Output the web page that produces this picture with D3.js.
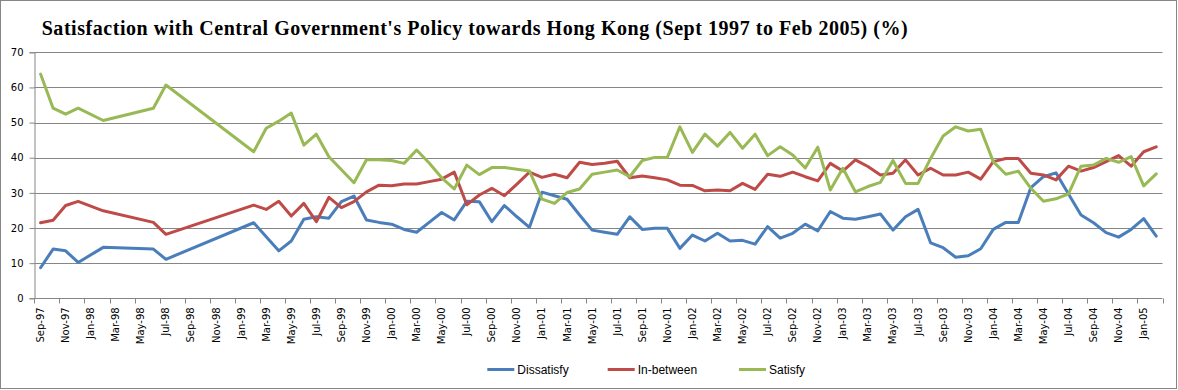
<!DOCTYPE html>
<html>
<head>
<meta charset="utf-8">
<script src="https://cdn.jsdelivr.net/npm/d3@7"></script>
<style>
  html, body { margin: 0; padding: 0; background: #fff; }
  svg { display: block; }
</style>
</head>
<body>
<svg id="chart" width="1178" height="390"></svg>
<script>
// ---- data ----
const title = "Satisfaction with Central Government's Policy towards Hong Kong (Sept 1997 to Feb 2005) (%)";

// all monthly categories on the axis (Sep-97 .. Feb-05)
const months = [
  "Sep-97","Oct-97","Nov-97","Dec-97",
  "Jan-98","Feb-98","Mar-98","Apr-98","May-98","Jun-98","Jul-98","Aug-98","Sep-98","Oct-98","Nov-98","Dec-98",
  "Jan-99","Feb-99","Mar-99","Apr-99","May-99","Jun-99","Jul-99","Aug-99","Sep-99","Oct-99","Nov-99","Dec-99",
  "Jan-00","Feb-00","Mar-00","Apr-00","May-00","Jun-00","Jul-00","Aug-00","Sep-00","Oct-00","Nov-00","Dec-00",
  "Jan-01","Feb-01","Mar-01","Apr-01","May-01","Jun-01","Jul-01","Aug-01","Sep-01","Oct-01","Nov-01","Dec-01",
  "Jan-02","Feb-02","Mar-02","Apr-02","May-02","Jun-02","Jul-02","Aug-02","Sep-02","Oct-02","Nov-02","Dec-02",
  "Jan-03","Feb-03","Mar-03","Apr-03","May-03","Jun-03","Jul-03","Aug-03","Sep-03","Oct-03","Nov-03","Dec-03",
  "Jan-04","Feb-04","Mar-04","Apr-04","May-04","Jun-04","Jul-04","Aug-04","Sep-04","Oct-04","Nov-04","Dec-04",
  "Jan-05","Feb-05"
];

// labelled ticks (every second month)
const tickLabels = [
  "Sep-97","Nov-97","Jan-98","Mar-98","May-98","Jul-98","Sep-98","Nov-98","Jan-99","Mar-99","May-99","Jul-99",
  "Sep-99","Nov-99","Jan-00","Mar-00","May-00","Jul-00","Sep-00","Nov-00","Jan-01","Mar-01","May-01","Jul-01",
  "Sep-01","Nov-01","Jan-02","Mar-02","May-02","Jul-02","Sep-02","Nov-02","Jan-03","Mar-03","May-03","Jul-03",
  "Sep-03","Nov-03","Jan-04","Mar-04","May-04","Jul-04","Sep-04","Nov-04","Jan-05"
];

// survey months
const surveyDates = [
  "Sep-97","Oct-97","Nov-97","Dec-97","Feb-98","Jun-98","Jul-98",
  "Feb-99","Mar-99","Apr-99","May-99","Jun-99","Jul-99","Aug-99","Sep-99","Oct-99","Nov-99","Dec-99",
  "Jan-00","Feb-00","Mar-00","Apr-00","May-00","Jun-00","Jul-00","Aug-00","Sep-00","Oct-00","Nov-00","Dec-00",
  "Jan-01","Feb-01","Mar-01","Apr-01","May-01","Jun-01","Jul-01","Aug-01","Sep-01","Oct-01","Nov-01","Dec-01",
  "Jan-02","Feb-02","Mar-02","Apr-02","May-02","Jun-02","Jul-02","Aug-02","Sep-02","Oct-02","Nov-02","Dec-02",
  "Jan-03","Feb-03","Mar-03","Apr-03","May-03","Jun-03","Jul-03","Aug-03","Sep-03","Oct-03","Nov-03","Dec-03",
  "Jan-04","Feb-04","Mar-04","Apr-04","May-04","Jun-04","Jul-04","Aug-04","Sep-04","Oct-04","Nov-04","Dec-04",
  "Jan-05","Feb-05"
];

const dissatisfy = [
  8.7,14.0,13.5,10.2,14.5,14.0,11.1,
  21.5,17.5,13.5,16.3,22.5,23.2,22.8,27.5,29.1,22.3,21.6,
  21.1,19.6,18.8,21.6,24.4,22.3,27.6,27.5,21.8,26.4,23.2,20.2,
  30.2,29.2,28.2,23.7,19.4,18.8,18.2,23.2,19.6,19.9,19.9,14.2,
  18.0,16.3,18.5,16.3,16.5,15.4,20.4,17.1,18.5,21.1,19.2,24.7,
  22.8,22.5,23.2,24.0,19.4,23.2,25.3,15.8,14.4,11.7,12.1,14.1,
  19.6,21.6,21.6,31.5,34.6,35.7,29.7,23.7,21.5,18.7,17.4,19.6,
  22.7,17.7
];

const inBetween = [
  21.5,22.2,26.4,27.6,24.9,21.6,18.2,
  26.5,25.3,27.6,23.4,27.0,21.8,28.7,25.8,27.5,30.3,32.2,
  32.0,32.5,32.5,33.2,33.9,35.9,26.6,29.4,31.3,29.2,32.5,35.9,
  34.4,35.3,34.3,38.7,38.1,38.4,39.0,34.3,34.8,34.3,33.7,32.2,
  32.1,30.6,30.8,30.6,32.7,31.0,35.3,34.7,35.9,34.6,33.4,38.4,
  36.2,39.4,37.5,35.1,35.6,39.4,35.1,37.0,35.1,35.1,35.9,33.9,
  38.9,39.8,39.8,35.6,35.1,33.7,37.6,36.2,37.2,38.9,40.6,37.6,
  41.7,43.1
];

const satisfy = [
  63.8,54.1,52.4,54.1,50.6,54.1,60.7,
  41.7,48.4,50.4,52.7,43.6,46.7,40.3,36.6,32.9,39.4,39.4,
  39.2,38.4,42.2,38.5,34.3,31.1,37.9,35.2,37.2,37.2,36.7,36.2,
  28.2,27.0,30.1,31.1,35.3,35.9,36.5,34.6,39.2,40.1,40.1,48.8,
  41.5,46.7,43.3,47.2,42.7,46.7,40.6,43.1,40.8,37.1,43.0,30.8,
  37.0,30.3,31.8,33.0,39.2,32.7,32.7,39.8,46.2,48.8,47.6,48.1,
  38.9,35.3,36.2,31.3,27.6,28.3,29.7,37.6,37.9,39.8,38.7,40.3,
  32.0,35.4
];

const seriesNames = ["Dissatisfy", "In-between", "Satisfy"];
const seriesColors = ["#4A7EBB", "#BE4B48", "#98B954"];
const yTicks = [0, 10, 20, 30, 40, 50, 60, 70];

// ---- drawing ----
const svg = d3.select("#chart");
const W = 1178, H = 390;
const plot = { left: 34.3, right: 1162.5, top: 52.3, bottom: 298.3 };
const gridColor = "#868686";

// outer border
svg.append("rect")
  .attr("x", 0.5).attr("y", 0.5)
  .attr("width", W - 2).attr("height", H - 2)
  .attr("fill", "#fff").attr("stroke", gridColor).attr("stroke-width", 1);

// title
svg.append("text")
  .attr("x", 41.7).attr("y", 35)
  .attr("textLength", 866).attr("lengthAdjust", "spacing")
  .style("font-family", "'Liberation Serif', 'Times New Roman', serif")
  .style("font-weight", "bold")
  .style("font-size", "20px")
  .attr("fill", "#000")
  .text(title);

const x = d3.scaleBand().domain(months).range([plot.left, plot.right]).padding(0);
const y = d3.scaleLinear().domain([0, 70]).range([plot.bottom, plot.top]);
const cx = m => x(m) + x.bandwidth() / 2;

// gridlines
svg.append("g").selectAll("line")
  .data(yTicks.filter(t => t > 0))
  .join("line")
  .attr("x1", plot.left).attr("x2", plot.right)
  .attr("y1", d => Math.round(y(d)) + 0.5).attr("y2", d => Math.round(y(d)) + 0.5)
  .attr("stroke", gridColor).attr("stroke-width", 1);

// y axis
const yAxis = svg.append("g")
  .attr("transform", `translate(${Math.round(plot.left) + 0.5},0)`)
  .call(d3.axisLeft(y).tickValues(yTicks).tickSize(5).tickPadding(6).tickFormat(d3.format("d")));
yAxis.select(".domain").attr("stroke", gridColor);
yAxis.selectAll(".tick line").attr("stroke", gridColor);
yAxis.selectAll(".tick text")
  .style("font-family", "'DejaVu Sans', Verdana, sans-serif")
  .style("font-size", "10px").attr("fill", "#000");

// x axis line
const xAxisY = Math.round(plot.bottom) + 0.5;
svg.append("line")
  .attr("x1", plot.left).attr("x2", plot.right)
  .attr("y1", xAxisY).attr("y2", xAxisY)
  .attr("stroke", gridColor);

// x tick marks at category boundaries every two months (plus the end)
const tickMonths = months.filter((m, i) => i % 2 === 0);
svg.append("g").selectAll("line")
  .data(tickMonths)
  .join("line")
  .attr("x1", d => Math.round(x(d)) + 0.5).attr("x2", d => Math.round(x(d)) + 0.5)
  .attr("y1", xAxisY).attr("y2", xAxisY + 5)
  .attr("stroke", gridColor);
svg.append("line")
  .attr("x1", Math.round(plot.right) + 0.5).attr("x2", Math.round(plot.right) + 0.5)
  .attr("y1", xAxisY).attr("y2", xAxisY + 5)
  .attr("stroke", gridColor);

// x labels
svg.append("g").selectAll("text")
  .data(tickLabels)
  .join("text")
  .attr("transform", d => `translate(${cx(d)},${plot.bottom + 9}) rotate(-90)`)
  .attr("text-anchor", "end")
  .attr("dy", "0.35em")
  .style("font-family", "'DejaVu Sans', Verdana, sans-serif")
  .style("font-size", "10px")
  .attr("fill", "#000")
  .text(d => d);

// lines
const seriesData = [dissatisfy, inBetween, satisfy];
const lineGen = d3.line()
  .x(d => cx(d.date))
  .y(d => y(d.value));

seriesData.forEach((vals, si) => {
  const pts = surveyDates.map((dt, i) => ({ date: dt, value: vals[i] }));
  svg.append("path")
    .datum(pts)
    .attr("d", lineGen)
    .attr("fill", "none")
    .attr("stroke", seriesColors[si])
    .attr("stroke-width", 3)
    .attr("stroke-linejoin", "round")
    .attr("stroke-linecap", "round");
});

// legend
const legendX = [487.3, 607.7, 739];
const legendY = 369.5;
const lg = svg.append("g").selectAll("g")
  .data(seriesNames)
  .join("g")
  .attr("transform", (d, i) => `translate(${legendX[i]},${legendY})`);
lg.append("line")
  .attr("x1", 0).attr("x2", 27)
  .attr("y1", 0).attr("y2", 0)
  .attr("stroke", (d, i) => seriesColors[i])
  .attr("stroke-width", 3);
lg.append("text")
  .attr("x", 30).attr("y", 0).attr("dy", "0.35em")
  .style("font-family", "'Liberation Sans', Arial, sans-serif")
  .style("font-size", "12px")
  .attr("fill", "#000")
  .text(d => d);
</script>
</body>
</html>
